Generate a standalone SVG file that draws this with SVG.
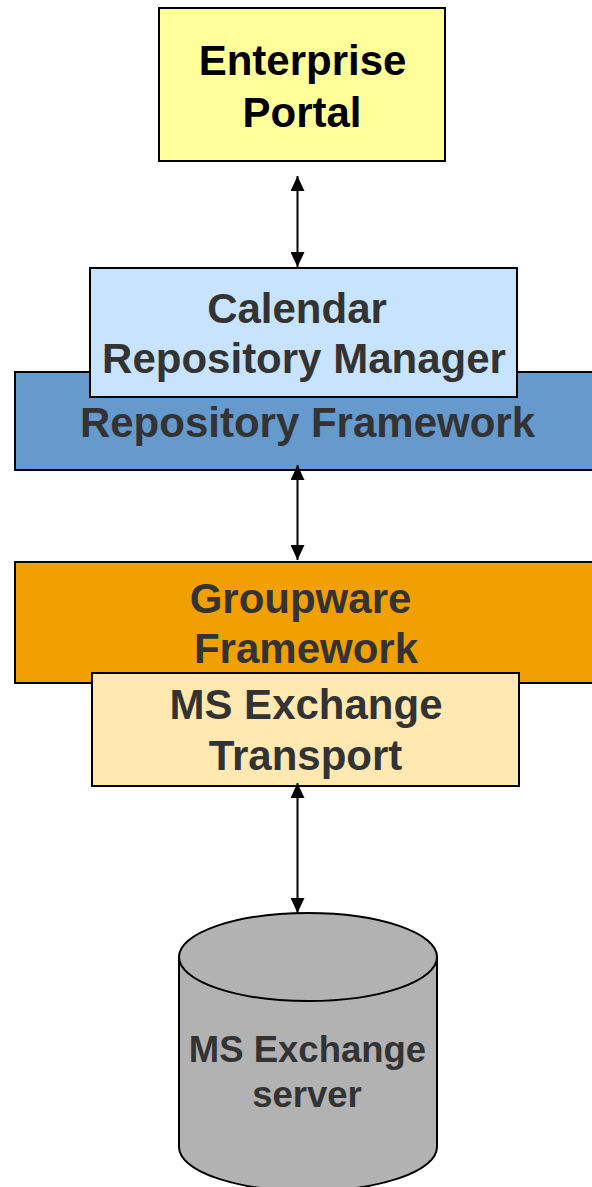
<svg xmlns="http://www.w3.org/2000/svg" width="592" height="1187" viewBox="0 0 592 1187">
  <style>
    .box { stroke: #000000; stroke-width: 2; }
    .lbl { font-family: "Liberation Sans", Arial, sans-serif; font-weight: bold; font-size: 42px; fill: #333333; text-anchor: middle; }
    .dark { fill: #000000; }
    .small { font-size: 36.5px; }
    .conn { stroke: #000000; stroke-width: 2; fill: none; marker-start: url(#ah); marker-end: url(#ah); }
  </style>
  <defs>
    <marker id="ah" viewBox="0 0 15 14" refX="15" refY="7" markerWidth="15" markerHeight="14" markerUnits="userSpaceOnUse" orient="auto-start-reverse">
      <path d="M0,0 L15,7 L0,14 z" fill="#000000"/>
    </marker>
  </defs>
  <rect width="592" height="1187" fill="#ffffff"/>

  <g id="enterprise-portal">
    <rect class="box" x="159" y="8" width="286" height="153" fill="#FFFF99"/>
    <text class="lbl dark" x="302.5" y="75">Enterprise</text>
    <text class="lbl dark" x="302" y="127">Portal</text>
  </g>

  <g id="repository-framework">
    <rect class="box" x="15" y="372" width="600" height="98" fill="#6699CC"/>
    <text class="lbl" x="307.5" y="437">Repository Framework</text>
  </g>

  <g id="calendar-repository-manager">
    <rect class="box" x="90" y="268" width="427" height="129" fill="#C8E3FE"/>
    <text class="lbl" x="297" y="323">Calendar</text>
    <text class="lbl" x="304" y="373">Repository Manager</text>
  </g>

  <g id="groupware-framework">
    <rect class="box" x="15" y="562" width="600" height="121" fill="#F0A000"/>
    <text class="lbl" x="300.5" y="613">Groupware</text>
    <text class="lbl" x="306" y="663">Framework</text>
  </g>

  <g id="ms-exchange-transport">
    <rect class="box" x="92" y="673" width="427" height="113" fill="#FFE9B0"/>
    <text class="lbl" x="306" y="719">MS Exchange</text>
    <text class="lbl" x="305.5" y="770">Transport</text>
  </g>

  <g id="ms-exchange-server">
    <path class="box" d="M179,958 L179,1147 A129,44 0 0 0 437,1147 L437,958" fill="#B2B2B2"/>
    <ellipse class="box" cx="308" cy="957" rx="129" ry="44" fill="#B2B2B2"/>
    <text class="lbl small" x="307.5" y="1062">MS Exchange</text>
    <text class="lbl small" x="307" y="1107">server</text>
  </g>

  <g id="connectors">
    <line class="conn" x1="297.5" y1="176" x2="297.5" y2="267"/>
    <line class="conn" x1="297.5" y1="465" x2="297.5" y2="560"/>
    <line class="conn" x1="297.5" y1="783" x2="297.5" y2="913"/>
  </g>
</svg>
